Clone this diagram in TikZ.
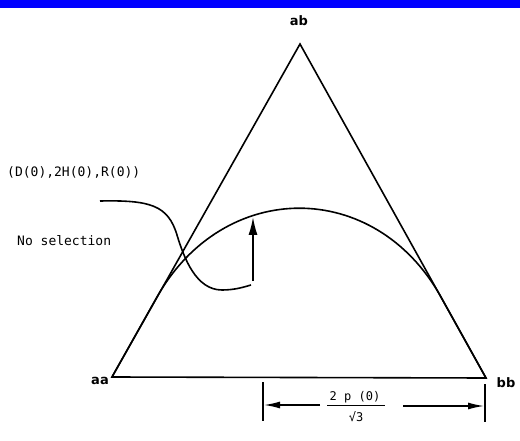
\documentclass[tikz,border=0pt]{standalone}
\usepackage{fontspec}
\setmainfont{Liberation Sans}
\newfontfamily\labelfont{DejaVu Sans}
\newfontfamily\monofont{DejaVu Sans Mono}
\usetikzlibrary{arrows.meta,calc}
\definecolor{barblue}{RGB}{0,0,255}
\tikzset{
  edge/.style={line width=1.6pt, line join=miter},
  vlabel/.style={font=\labelfont\bfseries\fontsize{13}{15}\selectfont, inner sep=0pt},
  txt/.style={font=\monofont\fontsize{13}{15}\selectfont, inner sep=0pt, anchor=west},
  fractxt/.style={font=\monofont\fontsize{12}{14}\selectfont, inner sep=0pt},
  bigarrow/.style={line width=1.6pt, -{Latex[length=18pt,width=9pt]}},
  dimarrow/.style={line width=1.4pt, -{Latex[length=16pt,width=7pt]}},
  tick/.style={line width=1.4pt}
}
\begin{document}
\begin{tikzpicture}[x=1pt,y=-1pt]
\useasboundingbox (0,0) rectangle (520,441);
\fill[barblue] (0,0) rectangle (520,8);
% vertices
\coordinate (aa) at (112,377);
\coordinate (ab) at (300,44);
\coordinate (bb) at (486,378);
\draw[edge] (aa) -- (ab) -- (bb) -- cycle;
% curve: follows the sides near the base vertices, arches to a peak
\coordinate (tL) at (157,297);
\coordinate (tR) at (441,297);
\coordinate (cL) at (224,178.6);
\coordinate (cR) at (375,178.6);
\draw[edge] (aa) -- (tL) .. controls (cL) and (cR) .. (tR) -- (bb);
% vertex labels
\node[vlabel] (lab) at (299,21) {ab};
\node[vlabel] (laa) at (100,381) {aa};
\node[vlabel] (lbb) at (506,383) {bb};
% texts
\node[txt] (start) at (7,172) {(D(0),2H(0),R(0))};
\node[txt] (nosel) at (17,241) {No selection};
% S curve
\coordinate (sa) at (100,201);
\coordinate (sb) at (177,235);
\coordinate (sc) at (222,290);
\coordinate (sd) at (251,285);
\draw[edge] (sa) .. controls (150,200) and (168,205) .. (sb)
  .. controls (184,258) and (196,290) .. (sc)
  .. controls (235,290) and (244,287) .. (sd);
% vertical arrow
\coordinate (arrbot) at (253,281);
\coordinate (arrtip) at (253,217);
\draw[bigarrow] (arrbot) -- (arrtip);
% dimension
\coordinate (tl1) at (263,382);
\coordinate (tl2) at (263,421);
\coordinate (tr1) at (485,384);
\coordinate (tr2) at (485,422);
\draw[tick] (tl1) -- (tl2);
\draw[tick] (tr1) -- (tr2);
\coordinate (dl) at (320,405);
\coordinate (dlt) at (264,405);
\coordinate (dr) at (403,406);
\coordinate (drt) at (484,406);
\draw[dimarrow] (dl) -- (dlt);
\draw[dimarrow] (dr) -- (drt);
\node[fractxt] (num) at (355,397) {2 p (0)};
\coordinate (barl) at (327,405);
\coordinate (barr) at (385,405);
\draw[line width=0.9pt] (barl) -- (barr);
\node[fractxt] (den) at (356,417) {\char"221A 3};
\end{tikzpicture}
\end{document}
